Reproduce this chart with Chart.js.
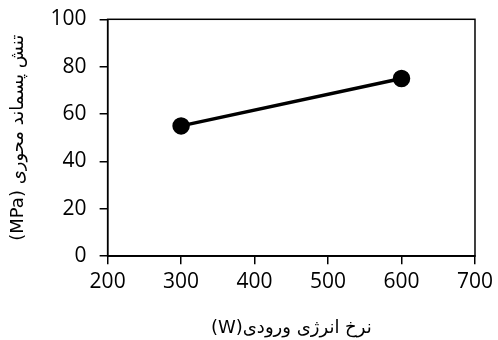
<!DOCTYPE html>
<html>
<head>
<meta charset="utf-8">
<script src="https://cdn.jsdelivr.net/npm/chart.js@4"></script>
<style>
  body { margin: 0; background: #fff; }
  #wrap { width: 498px; height: 340px; }
</style>
</head>
<body>
<div id="wrap"><canvas id="chart" width="498" height="340"></canvas></div>
<script>
const energy = [300, 600]
const stress = [55, 75]
const xTitle = '\u202Bنرخ انرژی ورودی(W)\u202C'
const yTitle = '\u202Bتنش پسماند محوری (MPa)\u202C'

// border round the plot area
const frame = {
    id: 'frame',
    afterDraw(chart) {
        const a = chart.chartArea
        const ctx = chart.ctx
        ctx.save()
        ctx.strokeStyle = '#000'
        ctx.lineWidth = 1.5
        ctx.strokeRect(a.left, a.top, a.right - a.left, a.bottom - a.top)
        ctx.restore()
    }
}

const fnt = "'Open Sans', 'DejaVu Sans', sans-serif"
const afnt = "'DejaVu Sans', sans-serif"

new Chart(document.getElementById('chart'), {
    type: 'line',
    data: {
        datasets: [{
            data: energy.map((x, i) => ({ x: x, y: stress[i] })),
            borderColor: '#000',
            backgroundColor: '#000',
            borderWidth: 3.5,
            pointRadius: 7,
            pointHoverRadius: 7,
            tension: 0
        }]
    },
    options: {
        responsive: false,
        animation: false,
        layout: { padding: { top: 15, right: 19, left: 8, bottom: 1 } },
        plugins: { legend: { display: false }, tooltip: { enabled: false } },
        scales: {
            x: {
                type: 'linear',
                min: 200, max: 700,
                ticks: { stepSize: 100, color: '#000', font: { family: fnt, size: 21 }, padding: 5 },
                grid: { drawOnChartArea: false, tickLength: 8, color: '#000', lineWidth: 1.5 },
                border: { color: '#000', width: 1.5 },
                title: { display: true, text: xTitle, color: '#000', font: { family: afnt, size: 18 }, padding: { top: 18, bottom: 0 } }
            },
            y: {
                min: 0, max: 100,
                ticks: { stepSize: 20, color: '#000', font: { family: fnt, size: 21, lineHeight: 0.6 }, padding: 13 },
                grid: { drawOnChartArea: false, tickLength: 8, color: '#000', lineWidth: 1.5 },
                border: { color: '#000', width: 1.5 },
                title: { display: true, text: yTitle, color: '#000', font: { family: afnt, size: 18 }, padding: { top: 0, bottom: 8 } }
            }
        }
    },
    plugins: [frame]
})
</script>
</body>
</html>
